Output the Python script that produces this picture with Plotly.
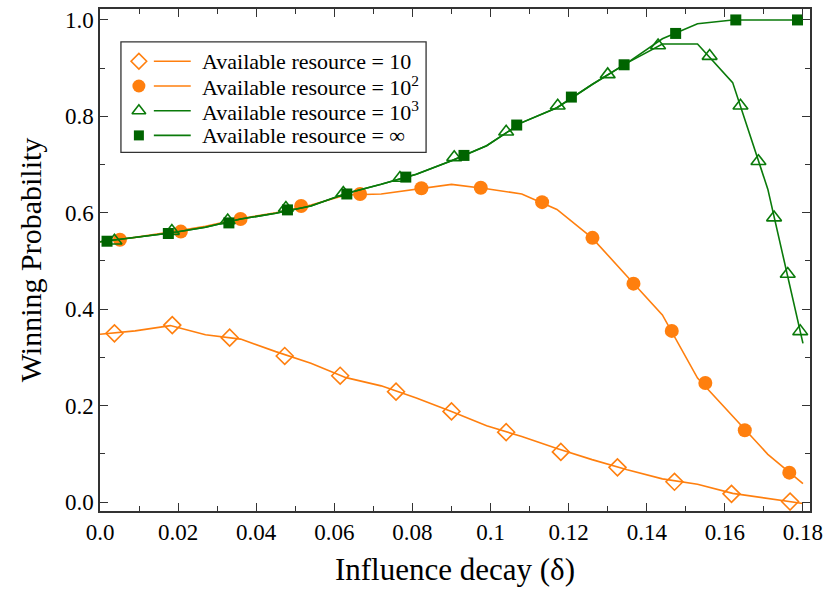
import plotly.graph_objects as go

# Line vertices (delta grid)
delta = [0.000, 0.009, 0.018, 0.027, 0.036, 0.045, 0.054, 0.063, 0.072, 0.081,
         0.090, 0.099, 0.108, 0.117, 0.126, 0.135, 0.144, 0.153, 0.162, 0.171, 0.180]

line_r10 = [0.348, 0.355, 0.366, 0.347, 0.338, 0.312, 0.288, 0.258, 0.241, 0.216,
            0.188, 0.158, 0.136, 0.111, 0.088, 0.067, 0.048, 0.037, 0.018, 0.007, -0.003]
line_r100 = [0.540, 0.549, 0.560, 0.572, 0.588, 0.600, 0.616, 0.637, 0.639, 0.649,
             0.659, 0.650, 0.639, 0.607, 0.548, 0.468, 0.388, 0.257, 0.178, 0.099, 0.038]
line_r1000 = [0.540, 0.549, 0.558, 0.570, 0.587, 0.599, 0.614, 0.640, 0.659, 0.680,
              0.708, 0.739, 0.787, 0.818, 0.866, 0.911, 0.950, 0.950, 0.870, 0.649, 0.329]
line_inf = [0.540, 0.549, 0.558, 0.570, 0.587, 0.599, 0.614, 0.640, 0.659, 0.680,
            0.708, 0.739, 0.787, 0.818, 0.866, 0.911, 0.961, 0.992, 1.000, 1.000, 1.000]

# Marker positions
mk_r10_x = [0.0037, 0.0185, 0.0332, 0.0473, 0.0615, 0.0758, 0.0900, 0.1040, 0.1180,
            0.1325, 0.1471, 0.1617, 0.1767]
mk_r10_y = [0.350, 0.367, 0.341, 0.303, 0.262, 0.229, 0.188, 0.145, 0.104,
            0.072, 0.042, 0.017, 0.001]
mk_r100_x = [0.0051, 0.0207, 0.0360, 0.0515, 0.0666, 0.0823, 0.0975, 0.1132, 0.1261,
             0.1366, 0.1464, 0.1550, 0.1651, 0.1765]
mk_r100_y = [0.544, 0.561, 0.587, 0.614, 0.639, 0.651, 0.652, 0.622, 0.548,
             0.453, 0.355, 0.247, 0.149, 0.061]
mk_r1000_x = [0.0037, 0.0184, 0.0327, 0.0476, 0.0623, 0.0768, 0.0907, 0.1040, 0.1172,
              0.1300, 0.1429, 0.1561, 0.1640, 0.1686, 0.1726, 0.1761, 0.1793]
mk_r1000_y = [0.542, 0.562, 0.584, 0.610, 0.641, 0.672, 0.715, 0.768, 0.822,
              0.887, 0.947, 0.925, 0.822, 0.707, 0.590, 0.473, 0.354]
mk_inf_x = [0.0018, 0.0175, 0.0330, 0.0480, 0.0632, 0.0783, 0.0932, 0.1067, 0.1207,
            0.1342, 0.1474, 0.1628, 0.1786]
mk_inf_y = [0.541, 0.557, 0.579, 0.606, 0.639, 0.674, 0.719, 0.782, 0.840,
            0.907, 0.972, 1.000, 1.000]

labels = ["Available resource = 10",
          "Available resource = 10<sup>2</sup>",
          "Available resource = 10<sup>3</sup>",
          "Available resource = \u221e"]

x_tickvals = [0.0, 0.02, 0.04, 0.06, 0.08, 0.10, 0.12, 0.14, 0.16, 0.18]
x_ticktext = ["0.0", "0.02", "0.04", "0.06", "0.08", "0.1", "0.12", "0.14", "0.16", "0.18"]
y_tickvals = [0.0, 0.2, 0.4, 0.6, 0.8, 1.0]
y_ticktext = ["0.0", "0.2", "0.4", "0.6", "0.8", "1.0"]

ORANGE = "#ff7f0e"
GREEN = "#0a7a0a"
DKGREEN = "#006400"
FONT = "Liberation Serif"
AXC = "#333333"

series = [
    (line_r10, mk_r10_x, mk_r10_y, ORANGE,
     dict(symbol="diamond-open", size=13, color=ORANGE, line=dict(width=1.6, color=ORANGE))),
    (line_r100, mk_r100_x, mk_r100_y, ORANGE,
     dict(symbol="circle", size=14, color=ORANGE, line=dict(width=0))),
    (line_r1000, mk_r1000_x, mk_r1000_y, GREEN,
     dict(symbol="triangle-up-open", size=13, color=GREEN, line=dict(width=1.6, color=GREEN))),
    (line_inf, mk_inf_x, mk_inf_y, GREEN,
     dict(symbol="square", size=11, color=DKGREEN, line=dict(width=0))),
]

fig = go.Figure()
for (ly, mx, my, lc, mk), lab in zip(series, labels):
    fig.add_trace(go.Scatter(x=delta, y=ly, mode="lines", line=dict(color=lc, width=1.6),
                             showlegend=False, hoverinfo="skip"))
    fig.add_trace(go.Scatter(x=mx, y=my, mode="markers", marker=mk, showlegend=False,
                             name=lab))

# ---- hand-built legend (marker, then short line, then text) in plot-fraction units ----
L, R, T, B = 100, 18, 7, 83
W, H = 830, 594
pw, ph = W - L - R, H - T - B
def fx(px):
    return (px - L) / pw
def fy(py):
    return (H - B - py) / ph

row_y = [59.5, 84.3, 109.1, 133.9]
fig.add_shape(type="rect", xref="paper", yref="paper",
              x0=fx(121), x1=fx(427), y0=fy(151), y1=fy(40),
              line=dict(color=AXC, width=1.3), fillcolor="white", layer="below")
for (ly, mx, my, lc, mk), lab, ry in zip(series, labels, row_y):
    fig.add_shape(type="line", xref="paper", yref="paper",
                  x0=fx(154), x1=fx(191), y0=fy(ry), y1=fy(ry),
                  line=dict(color=lc, width=1.6))
    lmk = dict(mk)
    lmk["size"] = mk["size"] - 1
    fig.add_trace(go.Scatter(x=[fx(139)], y=[fy(ry)], mode="markers", marker=lmk,
                             xaxis="x2", yaxis="y2", showlegend=False, hoverinfo="skip"))
    fig.add_annotation(x=fx(200), y=fy(ry), xref="paper", yref="paper", text=lab,
                       showarrow=False, xanchor="left", yanchor="middle",
                       font=dict(family=FONT, size=22, color="black"))

axis_common = dict(
    showline=True, linecolor=AXC, linewidth=1.5, mirror="ticks",
    ticks="inside", ticklen=8, tickwidth=1.3, tickcolor=AXC,
    showgrid=False, zeroline=False,
    tickfont=dict(family=FONT, size=23, color="black"),
)

xaxis = dict(range=[0, 0.1818], tickmode="array", tickvals=x_tickvals, ticktext=x_ticktext,
             minor=dict(dtick=0.01, tick0=0, ticks="inside", ticklen=5, tickwidth=1.2,
                        tickcolor=AXC, showgrid=False),
             title=dict(text="Influence decay (\u03b4)",
                        font=dict(family=FONT, size=31, color="black"), standoff=14),
             **axis_common)
yaxis = dict(range=[-0.0186, 1.0227], tickmode="array", tickvals=y_tickvals, ticktext=y_ticktext,
             minor=dict(dtick=0.1, tick0=0, ticks="inside", ticklen=5, tickwidth=1.2,
                        tickcolor=AXC, showgrid=False),
             title=dict(text="Winning Probability",
                        font=dict(family=FONT, size=30, color="black"), standoff=14),
             **axis_common)

fig.update_layout(
    width=W, height=H,
    margin=dict(l=L, r=R, t=T, b=B),
    plot_bgcolor="white", paper_bgcolor="white",
    font=dict(family=FONT, color="black"),
    showlegend=False,
    xaxis=xaxis, yaxis=yaxis,
    xaxis2=dict(overlaying="x", anchor="y2", range=[0, 1], visible=False, fixedrange=True),
    yaxis2=dict(overlaying="y", anchor="x2", range=[0, 1], visible=False, fixedrange=True),
)

fig.write_html("out.html")
